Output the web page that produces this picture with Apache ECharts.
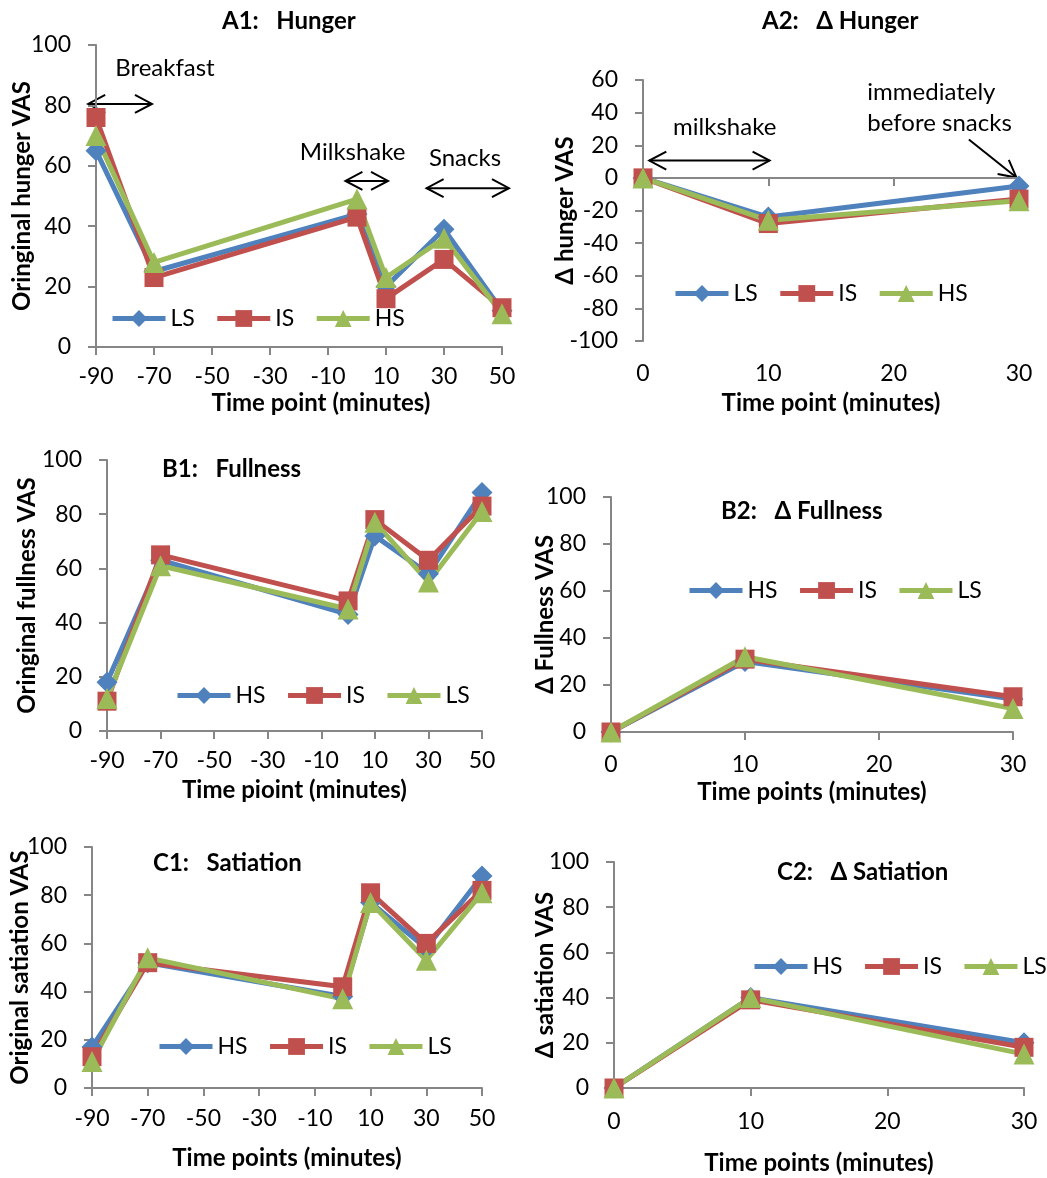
<!DOCTYPE html>
<html>
<head>
<meta charset="utf-8">
<script src="https://cdn.jsdelivr.net/npm/echarts@6/dist/echarts.min.js"></script>
<style>
  body { margin: 0; background: #fff; width: 1047px; height: 1178px; position: relative; }
  .panel { position: absolute; }
</style>
</head>
<body>
<div id="a1" class="panel" style="left:0;top:0;width:525px;height:425px"></div>
<div id="a2" class="panel" style="left:525px;top:0;width:522px;height:425px"></div>
<div id="b1" class="panel" style="left:0;top:425px;width:525px;height:385px"></div>
<div id="b2" class="panel" style="left:525px;top:425px;width:522px;height:385px"></div>
<div id="c1" class="panel" style="left:0;top:810px;width:525px;height:368px"></div>
<div id="c2" class="panel" style="left:525px;top:810px;width:522px;height:368px"></div>

<script>
// time points (minutes)
const timeFull = [-90, -70, 0, 10, 30, 50]
const timeDelta = [0, 10, 30]

// A1 / A2 hunger
const hungerLS = [65, 25, 44, 20, 39, 12]
const hungerIS = [76, 23, 43, 16, 29, 13]
const hungerHS = [70, 28, 49, 23, 36, 11]
const dHungerLS = [0, -24, -5]
const dHungerIS = [0, -28, -13]
const dHungerHS = [0, -26, -14]

// B1 / B2 fullness
const fullHS = [18, 63, 43, 72, 58, 88]
const fullIS = [11, 65, 48, 78, 63, 83]
const fullLS = [12, 61, 45, 77, 55, 81]
const dFullHS = [0, 30, 14]
const dFullIS = [0, 31, 15]
const dFullLS = [0, 32, 10]

// C1 / C2 satiation
const satHS = [17, 52, 38, 77, 58, 88]
const satIS = [13, 52, 42, 81, 60, 82]
const satLS = [11, 54, 37, 77, 53, 81]
const dSatHS = [0, 40, 20]
const dSatIS = [0, 39, 18]
const dSatLS = [0, 40, 15]

const FONT = 'Lato'
const GRAY = '#868686'
const BLUE = '#4F81BD'
const RED = '#C0504D'
const GREEN = '#9BBB59'

const panels = [
  {
    id: 'a1', title: 'A1:   Hunger', titlePos: [222, 9],
    grid: [96, 45, 406, 302], times: timeFull,
    x: { min: -90, max: 50, step: 20, margin: 18, name: 'Time point (minutes)', gap: 44, nudge: 44 },
    y: { min: 0, max: 100, step: 20, name: 'Oringinal hunger VAS', gap: 62 },
    legend: [110, 309],
    series: [['LS', BLUE, 'diamond', hungerLS], ['IS', RED, 'rect', hungerIS], ['HS', GREEN, 'triangle', hungerHS]],
    notes: [
      { text: 'Breakfast', at: [-83.4, 92.4] },
      { arrow: [[-92.7, 80.5], [-70.7, 80.5]], both: true },
      { text: 'Milkshake', at: [-19.7, 64.6] },
      { arrow: [[-4, 55], [10.7, 55]], both: true },
      { text: 'Snacks', at: [24.8, 62.6] },
      { arrow: [[24, 52.6], [52.4, 52.6]], both: true }
    ]
  },
  {
    id: 'a2', title: 'A2:   Δ Hunger', titlePos: [237, 9],
    grid: [118, 80, 376, 261], times: timeDelta, zeroLine: true,
    x: { min: 0, max: 30, step: 10, margin: 21, name: 'Time point (minutes)', gap: 50 },
    y: { min: -100, max: 60, step: 20, name: 'Δ hunger VAS', gap: 66 },
    legend: [148, 284],
    series: [['LS', BLUE, 'diamond', dHungerLS], ['IS', RED, 'rect', dHungerIS], ['HS', GREEN, 'triangle', dHungerHS]],
    notes: [
      { text: 'milkshake', at: [2.4, 30.9] },
      { arrow: [[0.5, 10.6], [10.1, 10.6]], both: true },
      { text: 'immediately', at: [17.9, 52.3] },
      { text: 'before snacks', at: [17.9, 33.3] },
      { arrow: [[26.0, 23.5], [29.8, 0.2]], both: false }
    ]
  },
  {
    id: 'b1', title: 'B1:   Fullness', titlePos: [162, 32],
    grid: [107, 35, 375, 271], times: timeFull,
    x: { min: -90, max: 50, step: 20, margin: 18, name: 'Time pioint (minutes)', gap: 47 },
    y: { min: 0, max: 100, step: 20, name: 'Oringinal fullness VAS', gap: 68 },
    legend: [175, 261],
    series: [['HS', BLUE, 'diamond', fullHS], ['IS', RED, 'rect', fullIS], ['LS', GREEN, 'triangle', fullLS]]
  },
  {
    id: 'b2', title: 'B2:   Δ Fullness', titlePos: [196, 74],
    grid: [86, 72, 402, 235], times: timeDelta,
    x: { min: 0, max: 30, step: 10, margin: 21, name: 'Time points (minutes)', gap: 48 },
    y: { min: 0, max: 100, step: 20, name: 'Δ Fullness VAS', gap: 54 },
    legend: [162, 156],
    series: [['HS', BLUE, 'diamond', dFullHS], ['IS', RED, 'rect', dFullIS], ['LS', GREEN, 'triangle', dFullLS]]
  },
  {
    id: 'c1', title: 'C1:   Satiation', titlePos: [153, 41],
    grid: [92, 37, 390, 241], times: timeFull,
    x: { min: -90, max: 50, step: 20, margin: 19, name: 'Time points (minutes)', gap: 58 },
    y: { min: 0, max: 100, step: 20, name: 'Original satiation VAS', gap: 60 },
    legend: [157, 227],
    series: [['HS', BLUE, 'diamond', satHS], ['IS', RED, 'rect', satIS], ['LS', GREEN, 'triangle', satLS]]
  },
  {
    id: 'c2', title: 'C2:   Δ Satiation', titlePos: [252, 50],
    grid: [89, 52, 410, 226], times: timeDelta,
    x: { min: 0, max: 30, step: 10, margin: 22, name: 'Time points (minutes)', gap: 63 },
    y: { min: 0, max: 100, step: 20, name: 'Δ satiation VAS', gap: 57 },
    legend: [227, 147],
    series: [['HS', BLUE, 'diamond', dSatHS], ['IS', RED, 'rect', dSatIS], ['LS', GREEN, 'triangle', dSatLS]]
  }
]

const axisLine = { show: true, onZero: false, lineStyle: { color: GRAY, width: 2 } }
const axisTick = { show: true, inside: false, length: 8, lineStyle: { color: GRAY, width: 2 } }
const labelStyle = { fontFamily: FONT, fontSize: 23, color: '#000' }
const nameStyle = { fontFamily: FONT, fontSize: 24, fontWeight: 'bold', color: '#000' }

function buildOption(p) {
  // axis min has to sit on a tick step, so -90..50 is drawn as 0..140
  const shift = p.x.min % p.x.step === 0 ? 0 : -p.x.min
  const xBase = {
    type: 'value', position: 'bottom',
    min: p.x.min + shift, max: p.x.max + shift, interval: p.x.step,
    splitLine: { show: false }
  }
  const xLabelled = {
    ...xBase,
    axisLine: p.zeroLine ? { show: false } : axisLine,
    axisTick: p.zeroLine ? { show: false } : axisTick,
    axisLabel: { ...labelStyle, margin: p.x.margin, formatter: v => String(v - shift) },
    name: p.x.name, nameLocation: 'middle', nameGap: p.x.gap, nameMoveOverlap: false,
    nameTextStyle: { ...nameStyle, padding: [0, 0, 0, p.x.nudge || 0] }
  }
  const xAxis = p.zeroLine
    ? [{ ...xBase, axisLine: { ...axisLine, onZero: true }, axisTick, axisLabel: { show: false } }, xLabelled]
    : [xLabelled]

  return {
    animation: false,
    textStyle: { fontFamily: FONT },
    title: {
      text: p.title, left: p.titlePos[0], top: p.titlePos[1], padding: 0,
      textStyle: { fontFamily: FONT, fontSize: 24, fontWeight: 'bold', color: '#000' }
    },
    grid: { left: p.grid[0], top: p.grid[1], width: p.grid[2], height: p.grid[3], containLabel: false, outerBoundsMode: 'none' },
    legend: {
      left: p.legend[0], top: p.legend[1] - 2, width: 400, padding: 0,
      itemWidth: 53, itemHeight: 21, itemGap: 20, itemTextGap: 5,
      selectedMode: false,
      lineStyle: { width: 5 },
      textStyle: labelStyle,
      data: p.series.map(s => s[0])
    },
    xAxis,
    yAxis: {
      type: 'value', min: p.y.min, max: p.y.max, interval: p.y.step,
      axisLine, axisTick, splitLine: { show: false },
      axisLabel: { ...labelStyle, margin: 25 },
      name: p.y.name, nameLocation: 'middle', nameGap: p.y.gap, nameMoveOverlap: false,
      nameTextStyle: nameStyle
    },
    series: p.series.map(([name, color, symbol, values]) => ({
      name, type: 'line', xAxisIndex: 0,
      data: p.times.map((t, i) => [t + shift, values[i]]),
      symbol, symbolSize: symbol === 'rect' ? 19 : 21,
      lineStyle: { color, width: 5 },
      itemStyle: { color },
      emphasis: { disabled: true },
      clip: false
    }))
  }
}

function arrowHead(tip, from) {
  const dx = from[0] - tip[0], dy = from[1] - tip[1]
  const len = Math.hypot(dx, dy)
  const ux = dx / len, uy = dy / len
  const L = 17, W = 9
  return {
    type: 'polyline',
    shape: { points: [[tip[0] + ux * L - uy * W, tip[1] + uy * L + ux * W], tip, [tip[0] + ux * L + uy * W, tip[1] + uy * L - ux * W]] },
    style: { stroke: '#000', lineWidth: 2, fill: null }
  }
}

function annotations(chart, p) {
  const shift = p.x.min % p.x.step === 0 ? 0 : -p.x.min
  const toPx = ([x, y]) => chart.convertToPixel({ gridIndex: 0 }, [x + shift, y])
  const out = []
  ;(p.notes || []).forEach(n => {
    if (n.text) {
      const [x, y] = toPx(n.at)
      out.push({
        type: 'text', x, y,
        style: { text: n.text, font: '24px ' + FONT, fill: '#000', align: 'left', verticalAlign: 'middle', textAlign: 'left', textVerticalAlign: 'middle' }
      })
    } else {
      const a = toPx(n.arrow[0]), b = toPx(n.arrow[1])
      out.push({ type: 'line', shape: { x1: a[0], y1: a[1], x2: b[0], y2: b[1] }, style: { stroke: '#000', lineWidth: 2 } })
      out.push(arrowHead(b, a))
      if (n.both) out.push(arrowHead(a, b))
    }
  })
  return out
}

panels.forEach(p => {
  const chart = echarts.init(document.getElementById(p.id), null, { renderer: 'canvas' })
  chart.setOption(buildOption(p))
  if (p.notes) chart.setOption({ graphic: annotations(chart, p) })
})
</script>
</body>
</html>
